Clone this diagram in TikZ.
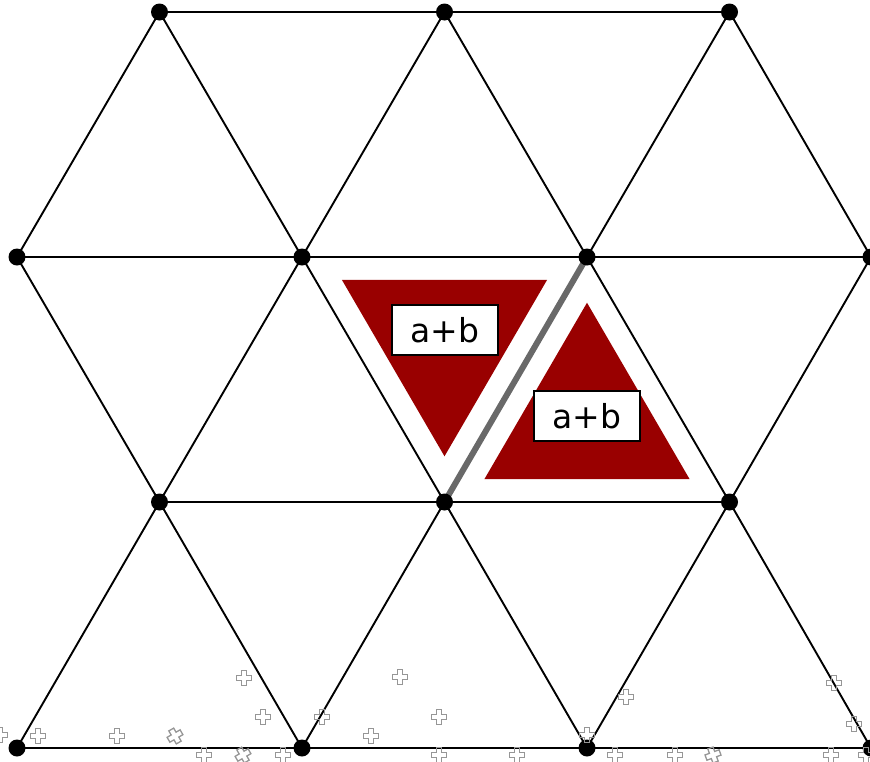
\documentclass[tikz,border=0pt]{standalone}
\usepackage{fontspec}
\newfontfamily\labelfont{DejaVu Sans}
\usetikzlibrary{calc}
\definecolor{tri}{RGB}{153,0,0}
\definecolor{seam}{RGB}{105,105,105}
\definecolor{crossgray}{RGB}{150,150,150}
\tikzset{
  edge/.style={black,line width=1.9pt},
  dotnode/.style={circle,fill=black,inner sep=0pt,minimum size=17pt},
  label box/.style={draw=black,line width=1.8pt,fill=white,minimum width=106pt,minimum height=50pt,inner sep=0pt,font=\labelfont\fontsize{33}{38}\selectfont},
  xcross/.pic={\draw[crossgray,line width=1.3pt,line join=miter]
    (2.8,7.5) -- (2.8,2.8) -- (7.5,2.8) -- (7.5,-2.8) -- (2.8,-2.8) -- (2.8,-7.5) -- (-2.8,-7.5) -- (-2.8,-2.8) -- (-7.5,-2.8) -- (-7.5,2.8) -- (-2.8,2.8) -- (-2.8,7.5) -- cycle;}
}
\begin{document}
\begin{tikzpicture}[x=1pt,y=-1pt]
\useasboundingbox (0,0) rectangle (870,761);
% lattice vertices
\coordinate (a1) at (159.5,12);
\coordinate (a2) at (444.5,12);
\coordinate (a3) at (729.5,12);
\coordinate (b1) at (17,257);
\coordinate (b2) at (302,257);
\coordinate (b3) at (587,257);
\coordinate (b4) at (871,257);
\coordinate (c1) at (159.5,502);
\coordinate (c2) at (444.5,502);
\coordinate (c3) at (729.5,502);
\coordinate (d1) at (17,748);
\coordinate (d2) at (302,748);
\coordinate (d3) at (587,748);
\coordinate (d4) at (871,748);
% edges
\draw[edge] (a1) -- (a2) -- (a3);
\draw[edge] (b1) -- (b2) -- (b3) -- (b4);
\draw[edge] (c1) -- (c2) -- (c3);
\draw[edge] (d1) -- (d2) -- (d3) -- (d4);
\draw[edge] (b1) -- (a1) -- (b2) -- (a2) -- (b3) -- (a3) -- (b4);
\draw[edge] (b1) -- (c1) -- (b2) -- (c2);
\draw[edge] (b3) -- (c3) -- (b4);
\draw[edge] (d1) -- (c1) -- (d2) -- (c2) -- (d3) -- (c3) -- (d4);
% red triangles
\coordinate (g1) at ($1/3*(b2)+1/3*(b3)+1/3*(c2)$);
\coordinate (g2) at ($1/3*(b3)+1/3*(c2)+1/3*(c3)$);
\fill[tri] ($(g1)!0.72!(b2)$) -- ($(g1)!0.72!(b3)$) -- ($(g1)!0.72!(c2)$) -- cycle;
\fill[tri] ($(g2)!0.72!(b3)$) -- ($(g2)!0.72!(c2)$) -- ($(g2)!0.72!(c3)$) -- cycle;
% seam
\draw[seam,line width=6pt] (b3) -- (c2);
% dots
\foreach \v in {a1,a2,a3,b1,b2,b3,b4,c1,c2,c3,d1,d2,d3,d4}
  \node[dotnode] (n\v) at (\v) {};
% labels
\node[label box] (lab1) at (445,330) {a+b};
\node[label box] (lab2) at (587,416) {a+b};
% scattered crosses
\foreach \x/\y/\r in {0/735/0, 38/736/0, 117/736/0, 175/736/30, 244/678/0, 263/717/0, 204/755/0, 243/755/30, 283/755/0,
  400/677/0, 322/717/0, 439/717/0, 371/736/0, 439/755/0, 517/755/0, 587/735/0,
  626/697/0, 834/683/0, 854/724/0, 615/755/0, 675/755/0, 713/755/20, 831/755/0, 866/755/0}
  \pic[rotate=\r] at (\x,\y) {xcross};
\end{tikzpicture}
\end{document}
